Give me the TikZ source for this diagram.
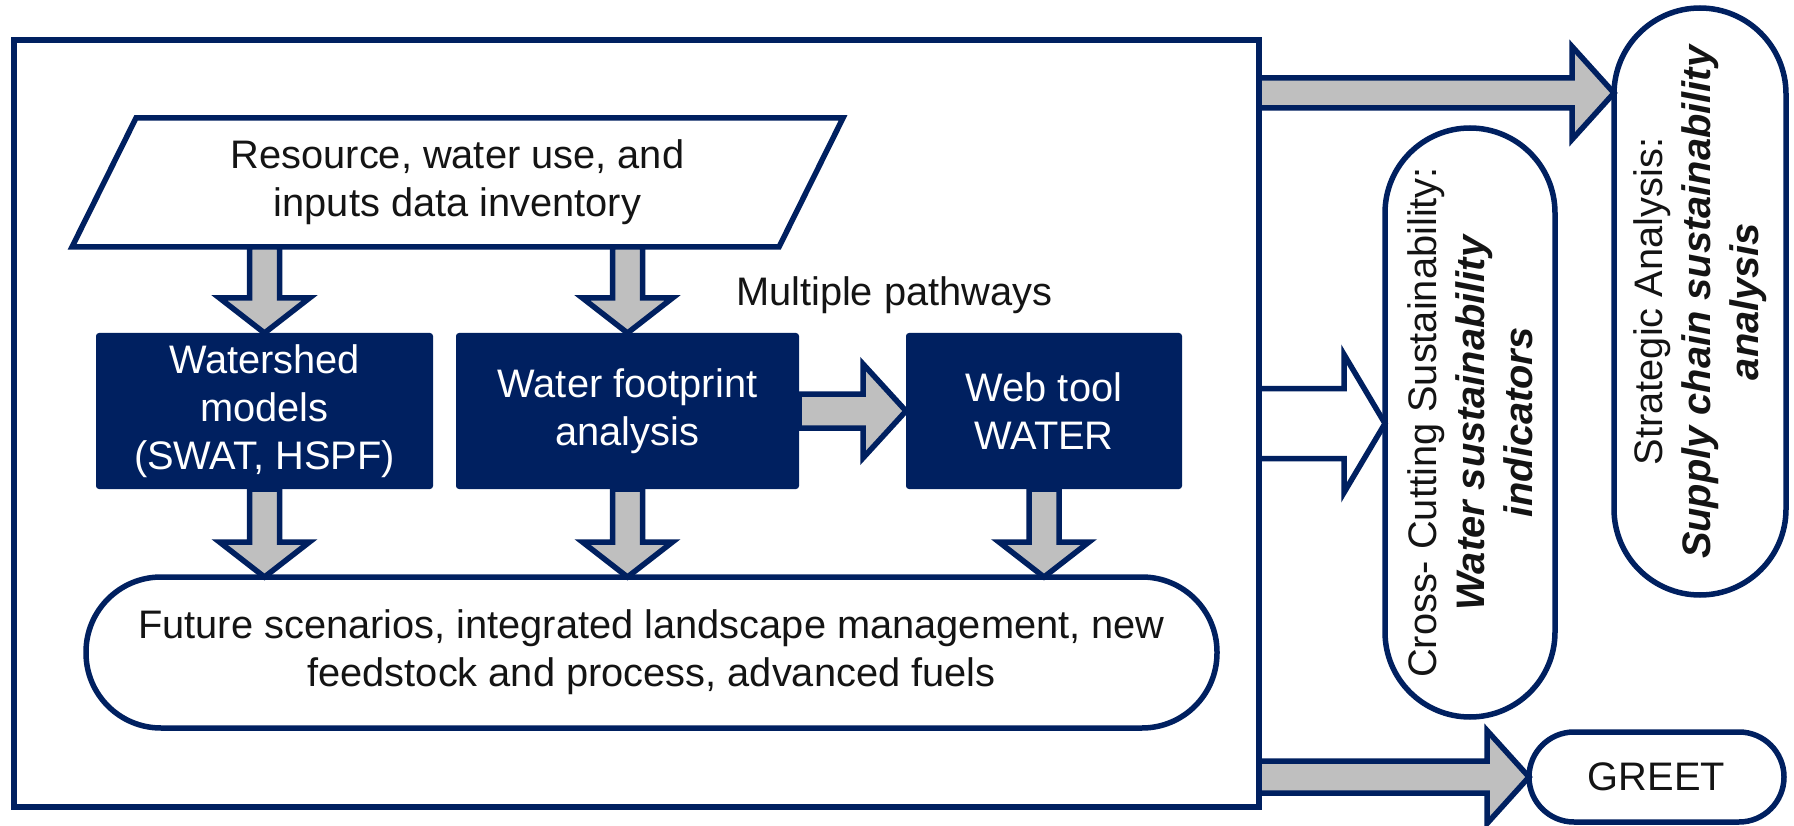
\documentclass[tikz,border=0pt]{standalone}
\usepackage{fontspec}
\setmainfont{Liberation Sans}
\usetikzlibrary{calc}
\definecolor{navy}{RGB}{0,32,96}
\definecolor{agray}{RGB}{191,191,191}
\definecolor{txt}{RGB}{20,20,20}
\begin{document}
\begin{tikzpicture}[x=1pt,y=-1pt,
  every node/.style={font=\fontsize{39.8}{48}\selectfont, text=txt, inner sep=0pt, outer sep=0pt},
  ol/.style={draw=navy, line width=5.5pt},
  navybox/.style={fill=navy, rounded corners=3pt, text=white, align=center, minimum height=156pt},
  stad/.style={ol, fill=white},
  darrow/.style={ol, fill=agray, line join=miter, to path={let \p1=(\tikztostart), \p2=(\tikztotarget) in
     (\x1-15pt,\y1) -- (\x1-15pt,\y2+35pt) -- (\x1-45pt,\y2+35pt) -- (\x1,\y2) -- (\x1+45pt,\y2+35pt) -- (\x1+15pt,\y2+35pt) -- (\x1+15pt,\y1) -- cycle}},
  rarrow/.style n args={3}{ol, fill=agray, line join=miter, to path={let \p1=(\tikztostart), \p2=(\tikztotarget) in
     (\x1,\y1+#1) -- (\x2-#3,\y1+#1) -- (\x2-#3,\y1+#2) -- (\x2,\y1) -- (\x2-#3,\y1-#2) -- (\x2-#3,\y1-#1) -- (\x1,\y1-#1) -- cycle}},
  oarrow/.style n args={3}{ol, line join=miter, to path={let \p1=(\tikztostart), \p2=(\tikztotarget) in
     (\x1,\y1+#1) -- (\x2-#3,\y1+#1) -- (\x2-#3,\y1+#2) -- (\x2,\y1) -- (\x2-#3,\y1-#2) -- (\x2-#3,\y1-#1) -- (\x1,\y1-#1)}}
]
\fill[white] (0,0) rectangle (1794,826);
\useasboundingbox (0,0) rectangle (1794,826);

% main frame
\node[ol, minimum width=1245pt, minimum height=767pt] (main) at (636.5,423.5) {};

% inventory parallelogram
\node[minimum width=707pt, minimum height=129pt, align=center] (inv) at (457.5,182.5)
  {Resource, water use, and\\inputs data inventory};
\draw[ol, line join=miter] ([xshift=-32pt]inv.south west) -- ([xshift=-32pt]inv.south east)
  -- ([xshift=32pt]inv.north east) -- ([xshift=32pt]inv.north west) -- cycle;

% navy boxes
\node[navybox, minimum width=337pt] (ws) at (264.5,411) {Watershed\\models\\(SWAT, HSPF)};
\node[navybox, minimum width=343pt] (fp) at (627.5,411) {Water footprint\\analysis};
\node[navybox, minimum width=276pt] (wt) at (1044,411) {Web tool\\WATER};

\node[anchor=base west] (mp) at (736,306) {Multiple pathways};

% future scenarios
\node[stad, minimum width=1131pt, minimum height=151pt, rounded corners=75pt, align=center] (fut) at (651.5,652.5)
  {Future scenarios, integrated landscape management, new\\feedstock and process, advanced fuels};

% right-hand stadiums
\node[stad, minimum width=170pt, minimum height=589pt, rounded corners=85pt] (cross) at (1470,422.5) {};
\node[rotate=90, align=center] (crosstext) at (cross.center)
  {Cross- Cutting Sustainability:\\\textbf{\textit{Water sustainability}}\\\textbf{\textit{indicators}}};
\node[stad, minimum width=172pt, minimum height=587pt, rounded corners=86pt] (strat) at (1700,301.5) {};
\node[rotate=90, align=center] (strattext) at (strat.center)
  {Strategic Analysis:\\\textbf{\textit{Supply chain sustainability}}\\\textbf{\textit{analysis}}};
\node[stad, minimum width=255pt, minimum height=90pt, rounded corners=45pt] (greet) at (1656.5,777) {GREET};

% down arrows
\draw[darrow] (inv.south -| ws.north) to (ws.north);
\draw[darrow] (inv.south -| fp.north) to (fp.north);
\draw[darrow] (ws.south) to (ws.south |- fut.north);
\draw[darrow] (fp.south) to (fp.south |- fut.north);
\draw[darrow] (wt.south) to (wt.south |- fut.north);

% horizontal arrows
\draw[rarrow={17pt}{47pt}{43pt}] (fp.east) to (wt.west);
\draw[rarrow={15pt}{46.5pt}{42pt}] ([yshift=-53pt]main.north east) to (strat.west);
\draw[oarrow={35pt}{69pt}{41pt}] (main.east) to (cross.west);
\draw[rarrow={16pt}{46.5pt}{42pt}] (main.east |- greet.west) to (greet.west);
\end{tikzpicture}
\end{document}
